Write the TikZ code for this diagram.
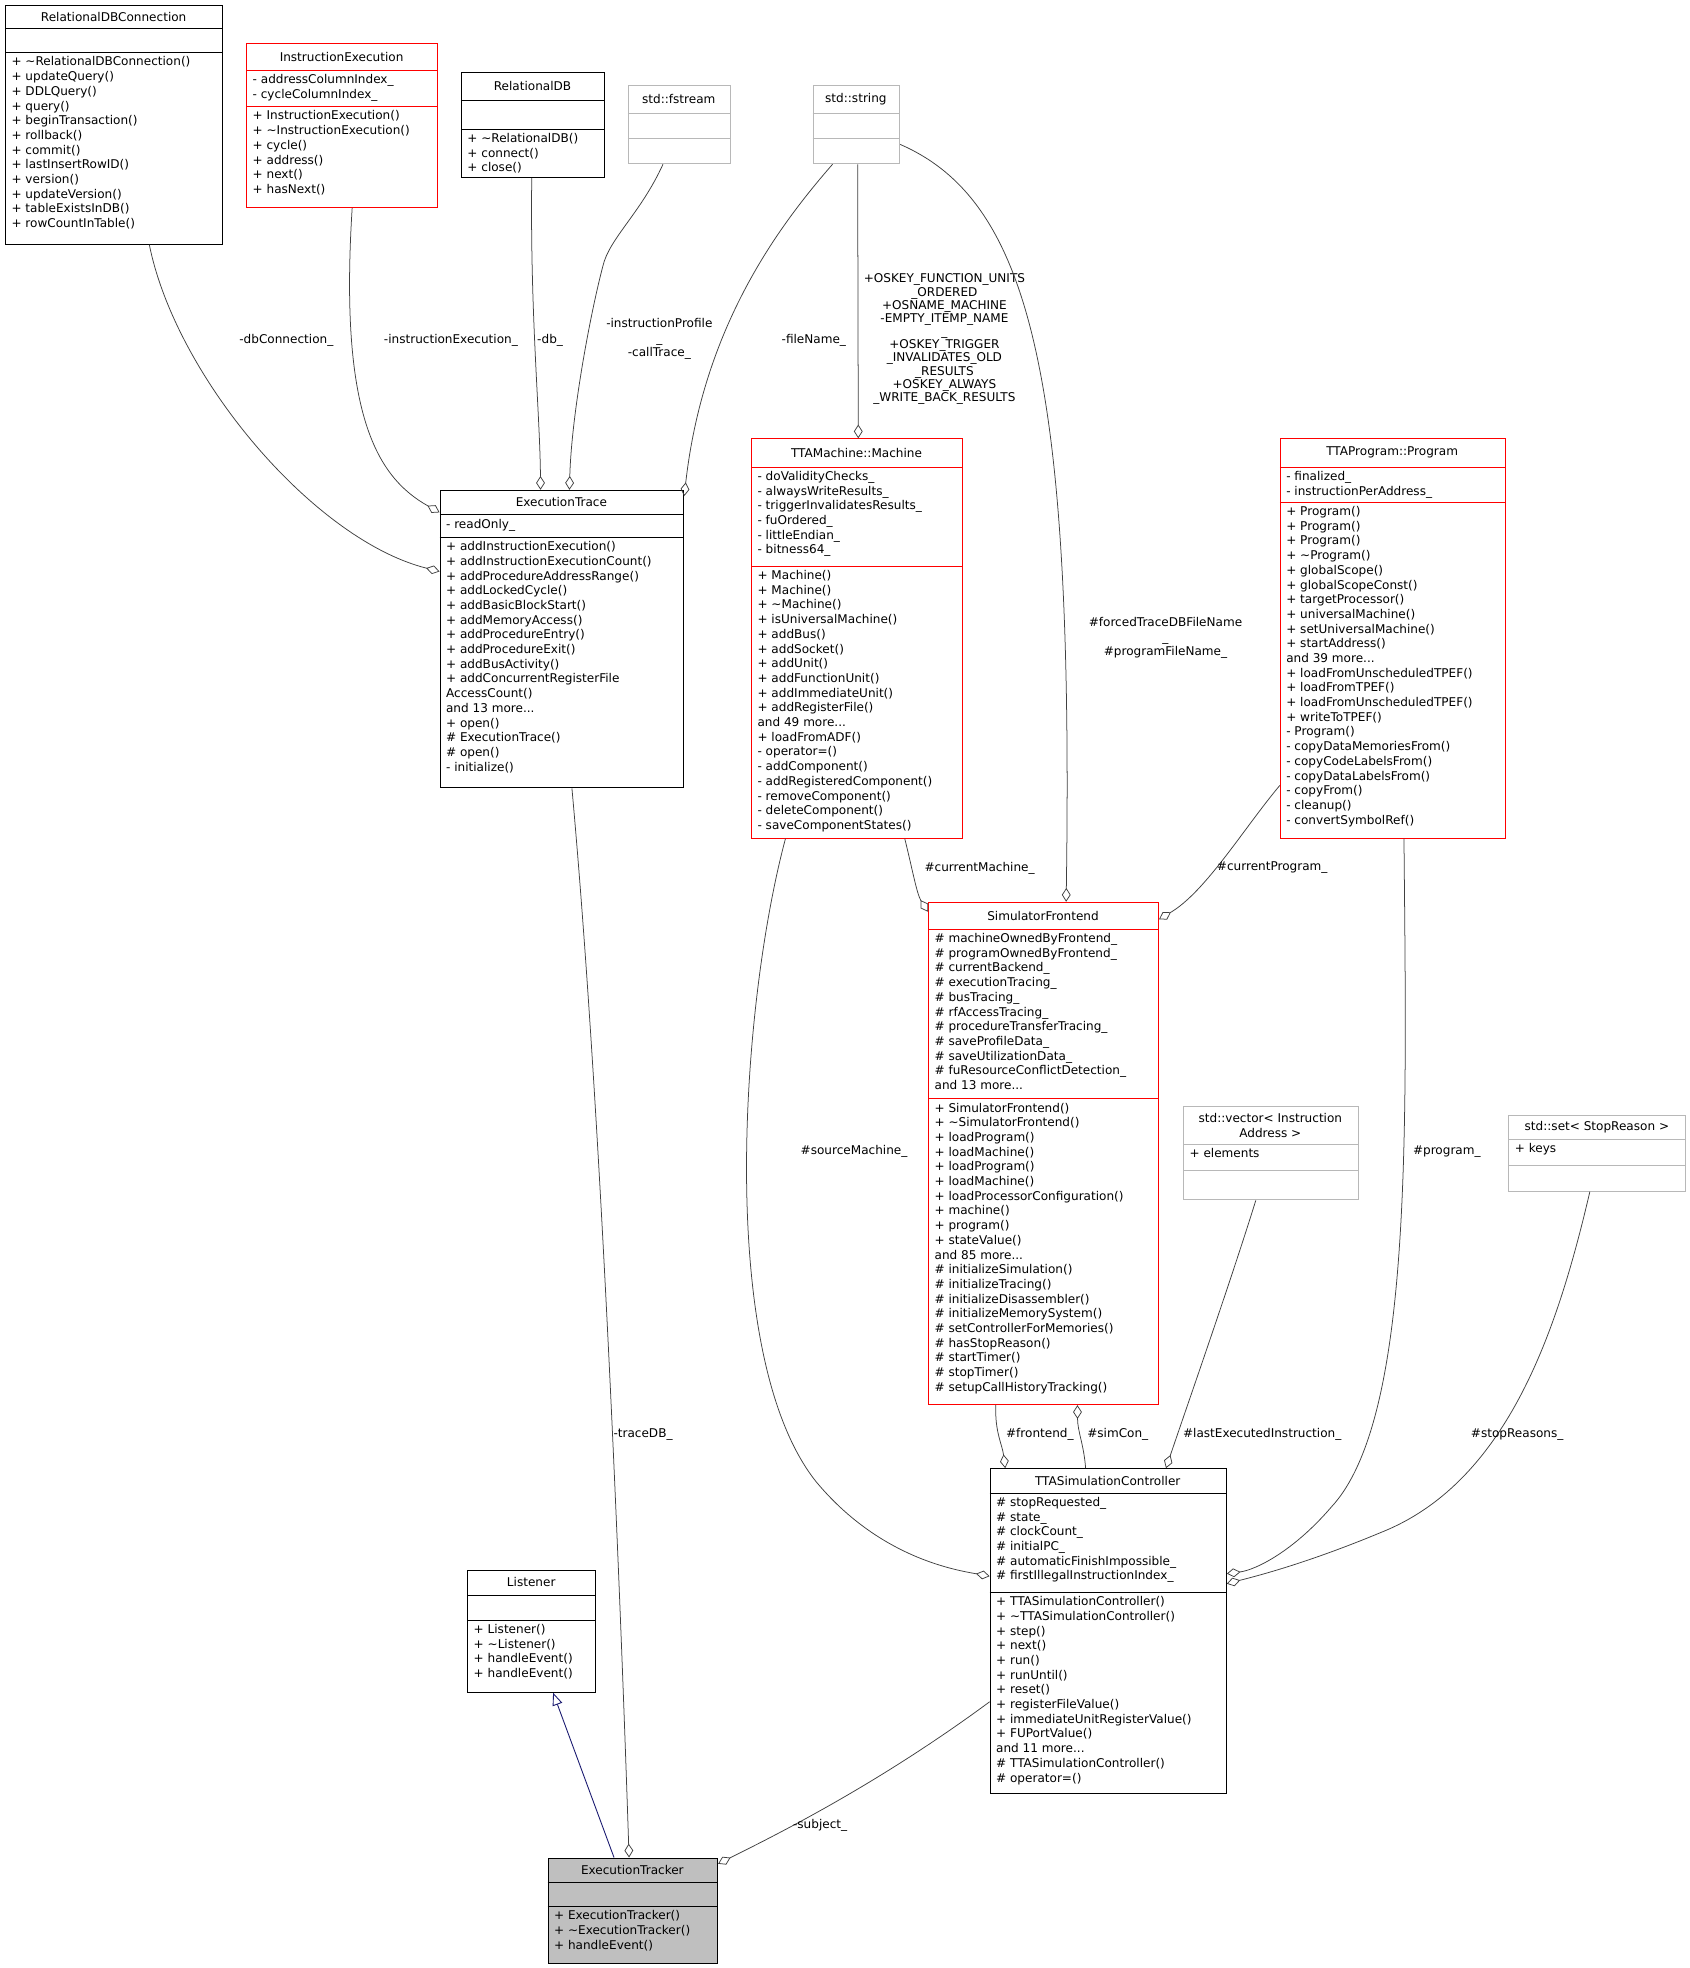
\documentclass[tikz,border=0pt]{standalone}
\usepackage{fontspec}
\setmainfont{DejaVu Sans}
\usetikzlibrary{arrows.meta}
\newcommand\tld{\textasciitilde}
\newcommand\umlfont{\fontsize{9.6}{11.7}\selectfont}
% class box: name, x, y, width, title h, attr h, method h, colour, title
\newcommand\classbox[9]{%
  \node[classframe, draw=#8, minimum width=#4pt, minimum height=#5pt+#6pt+#7pt, anchor=north west] (#1) at (#2,#3) {};
  \draw[draw=#8, line width=0.8pt] (#2,#3+#5) -- ++(#4,0);
  \draw[draw=#8, line width=0.8pt] (#2,#3+#5+#6) -- ++(#4,0);
  \node[font=\umlfont, align=center, inner sep=0] at (#2+#4/2,#3+#5/2) {#9};
  \coordinate (#1-a) at (#2+5,#3+#5+3);
  \coordinate (#1-m) at (#2+5,#3+#5+#6+3);
}
\tikzset{
  classframe/.style={rectangle, line width=0.8pt, inner sep=0},
  members/.style={anchor=north west, align=left, inner sep=0, font=\umlfont},
  lbl/.style={font=\umlfont, align=center, inner sep=1pt},
  usage/.style={draw={rgb,255:red,64;green,64;blue,64}, line width=0.6pt, -{Diamond[open,length=11pt,width=7pt]}},
  inherit/.style={draw={rgb,255:red,25;green,25;blue,112}, line width=0.7pt, -{Triangle[open,length=10pt,width=8pt]}}
}
\colorlet{grayedge}{black!28}
\colorlet{rededge}{red}
\begin{document}
\begin{tikzpicture}[x=1pt,y=1pt,yscale=-1]
\useasboundingbox[fill=white] (0,0) rectangle (1345,1567);

% classes
\classbox{rdbc}{4}{4}{173}{19}{19}{152}{black}{RelationalDBConnection}
\node[members] at (rdbc-m) {+ \tld RelationalDBConnection()\\+ updateQuery()\\+ DDLQuery()\\+ query()\\+ beginTransaction()\\+ rollback()\\+ commit()\\+ lastInsertRowID()\\+ version()\\+ updateVersion()\\+ tableExistsInDB()\\+ rowCountInTable()};

\classbox{ie}{196}{34}{152}{22}{29}{80}{rededge}{InstructionExecution}
\node[members] at (ie-a) {- addressColumnIndex\_\\- cycleColumnIndex\_};
\node[members] at (ie-m) {+ InstructionExecution()\\+ \tld InstructionExecution()\\+ cycle()\\+ address()\\+ next()\\+ hasNext()};

\classbox{rdb}{367}{57}{114}{23}{23}{38}{black}{RelationalDB}
\node[members] at (rdb-m) {+ \tld RelationalDB()\\+ connect()\\+ close()};

\classbox{fstr}{500}{68}{81}{22}{20}{20}{grayedge}{std::fstream}
\classbox{str}{647}{68}{69}{22}{20}{20}{grayedge}{std::string}

\classbox{et}{350}{390}{194}{20}{18}{199}{black}{ExecutionTrace}
\node[members] at (et-a) {- readOnly\_};
\node[members] at (et-m) {+ addInstructionExecution()\\+ addInstructionExecutionCount()\\+ addProcedureAddressRange()\\+ addLockedCycle()\\+ addBasicBlockStart()\\+ addMemoryAccess()\\+ addProcedureEntry()\\+ addProcedureExit()\\+ addBusActivity()\\+ addConcurrentRegisterFile\\AccessCount()\\and 13 more...\\+ open()\\\# ExecutionTrace()\\\# open()\\- initialize()};

\classbox{mach}{598}{349}{168}{23}{79}{216}{rededge}{TTAMachine::Machine}
\node[members] at (mach-a) {- doValidityChecks\_\\- alwaysWriteResults\_\\- triggerInvalidatesResults\_\\- fuOrdered\_\\- littleEndian\_\\- bitness64\_};
\node[members] at (mach-m) {+ Machine()\\+ Machine()\\+ \tld Machine()\\+ isUniversalMachine()\\+ addBus()\\+ addSocket()\\+ addUnit()\\+ addFunctionUnit()\\+ addImmediateUnit()\\+ addRegisterFile()\\and 49 more...\\+ loadFromADF()\\- operator=()\\- addComponent()\\- addRegisteredComponent()\\- removeComponent()\\- deleteComponent()\\- saveComponentStates()};

\classbox{prog}{1019}{349}{179}{23}{28}{267}{rededge}{TTAProgram::Program}
\node[members] at (prog-a) {- finalized\_\\- instructionPerAddress\_};
\node[members] at (prog-m) {+ Program()\\+ Program()\\+ Program()\\+ \tld Program()\\+ globalScope()\\+ globalScopeConst()\\+ targetProcessor()\\+ universalMachine()\\+ setUniversalMachine()\\+ startAddress()\\and 39 more...\\+ loadFromUnscheduledTPEF()\\+ loadFromTPEF()\\+ loadFromUnscheduledTPEF()\\+ writeToTPEF()\\- Program()\\- copyDataMemoriesFrom()\\- copyCodeLabelsFrom()\\- copyDataLabelsFrom()\\- copyFrom()\\- cleanup()\\- convertSymbolRef()};

\classbox{sf}{739}{718}{183}{22}{135}{243}{rededge}{SimulatorFrontend}
\node[members] at (sf-a) {\# machineOwnedByFrontend\_\\\# programOwnedByFrontend\_\\\# currentBackend\_\\\# executionTracing\_\\\# busTracing\_\\\# rfAccessTracing\_\\\# procedureTransferTracing\_\\\# saveProfileData\_\\\# saveUtilizationData\_\\\# fuResourceConflictDetection\_\\and 13 more...};
\node[members] at (sf-m) {+ SimulatorFrontend()\\+ \tld SimulatorFrontend()\\+ loadProgram()\\+ loadMachine()\\+ loadProgram()\\+ loadMachine()\\+ loadProcessorConfiguration()\\+ machine()\\+ program()\\+ stateValue()\\and 85 more...\\\# initializeSimulation()\\\# initializeTracing()\\\# initializeDisassembler()\\\# initializeMemorySystem()\\\# setControllerForMemories()\\\# hasStopReason()\\\# startTimer()\\\# stopTimer()\\\# setupCallHistoryTracking()};

\classbox{vec}{942}{881}{139}{30}{21}{23}{grayedge}{std::vector< Instruction\\Address >}
\node[members] at (vec-a) {+ elements};
\classbox{set}{1201}{888}{141}{19}{21}{20}{grayedge}{std::set< StopReason >}
\node[members] at (set-a) {+ keys};

\classbox{tsc}{788}{1169}{188}{20}{79}{160}{black}{TTASimulationController}
\node[members] at (tsc-a) {\# stopRequested\_\\\# state\_\\\# clockCount\_\\\# initialPC\_\\\# automaticFinishImpossible\_\\\# firstIllegalInstructionIndex\_};
\node[members] at (tsc-m) {+ TTASimulationController()\\+ \tld TTASimulationController()\\+ step()\\+ next()\\+ run()\\+ runUntil()\\+ reset()\\+ registerFileValue()\\+ immediateUnitRegisterValue()\\+ FUPortValue()\\and 11 more...\\\# TTASimulationController()\\\# operator=()};

\classbox{lis}{372}{1250}{102}{20}{20}{57}{black}{Listener}
\node[members] at (lis-m) {+ Listener()\\+ \tld Listener()\\+ handleEvent()\\+ handleEvent()};

\fill[black!25] (436,1479) rectangle (571,1563);
\classbox{etr}{436}{1479}{135}{20}{19}{45}{black}{ExecutionTracker}
\node[members] at (etr-m) {+ ExecutionTracker()\\+ \tld ExecutionTracker()\\+ handleEvent()};

% connectors
\draw[usage] ([xshift=28pt]rdbc.south) .. controls (140,300) and (250,430) .. ([yshift=65pt]et.north west);
\node[lbl] at (228,271) {-dbConnection\_};
\draw[usage] ([xshift=8pt]ie.south) .. controls (270,330) and (300,380) .. ([yshift=18pt]et.north west);
\node[lbl] at (359,271) {-instructionExecution\_};
\draw[usage] ([xshift=-1pt]rdb.south) .. controls (422,250) and (430,330) .. ([xshift=-17pt]et.north);
\node[lbl] at (438,271) {-db\_};
\draw[usage] ([xshift=-13pt]fstr.south) .. controls (510,170) and (485,190) .. (480,212) .. controls (470,250) and (455,330) .. ([xshift=6pt]et.north);
\node[lbl] at (525,270) {-instructionProfile\\\_\\-callTrace\_};
\draw[usage] ([xshift=-19pt]str.south) .. controls (620,180) and (560,260) .. ([yshift=5pt]et.north east);
\node[lbl] at (648,271) {-fileName\_};
\draw[usage] ([xshift=1pt]str.south) -- ([xshift=1pt]mach.north);
\node[lbl, font=\fontsize{9.6}{10.5}\selectfont] at (752,270) {+OSKEY\_FUNCTION\_UNITS\\\_ORDERED\\+OSNAME\_MACHINE\\-EMPTY\_ITEMP\_NAME\\\_\\+OSKEY\_TRIGGER\\\_INVALIDATES\_OLD\\\_RESULTS\\+OSKEY\_ALWAYS\\\_WRITE\_BACK\_RESULTS};
\draw[usage] ([yshift=47pt]str.north east) .. controls (820,160) and (855,300) .. ([xshift=18pt]sf.north);
\node[lbl] at (928,508) {\#forcedTraceDBFileName\\\_\\\#programFileName\_};
\draw[usage] ([xshift=38pt]mach.south) .. controls (726,690) and (730,712) .. ([yshift=8pt]sf.north west);
\node[lbl] at (780,691) {\#currentMachine\_};
\draw[usage] ([yshift=117pt]prog.west) .. controls (990,660) and (960,710) .. ([yshift=14pt]sf.north east);
\node[lbl] at (1013,691) {\#currentProgram\_};
\draw[usage] ([xshift=-57pt]mach.south) .. controls (590,800) and (570,1080) .. (650,1180) .. controls (700,1240) and (760,1250) .. ([yshift=86pt]tsc.north west);
\node[lbl] at (680,917) {\#sourceMachine\_};
\draw[usage] ([xshift=9pt]prog.south) .. controls (1120,900) and (1125,1130) .. (1060,1200) .. controls (1030,1235) and (1000,1250) .. ([yshift=84pt]tsc.north east);
\node[lbl] at (1152,917) {\#program\_};
\draw[usage] ([xshift=-38pt]sf.south) .. controls (792,1140) and (798,1150) .. ([xshift=-82pt]tsc.north);
\node[lbl] at (828,1142) {\#frontend\_};
\draw[usage] ([xshift=-18pt]tsc.north) .. controls (863,1150) and (858,1140) .. ([xshift=27pt]sf.south);
\node[lbl] at (890,1142) {\#simCon\_};
\draw[usage] ([xshift=-12pt]vec.south) .. controls (980,1020) and (945,1120) .. ([xshift=46pt]tsc.north);
\node[lbl] at (1005,1142) {\#lastExecutedInstruction\_};
\draw[usage] ([xshift=-6pt]set.south) .. controls (1240,1060) and (1200,1180) .. (1100,1220) .. controls (1040,1245) and (1000,1255) .. ([yshift=92pt]tsc.north east);
\node[lbl] at (1208,1142) {\#stopReasons\_};
\draw[usage] ([xshift=8pt]et.south) .. controls (480,900) and (495,1300) .. ([xshift=-3pt]etr.north);
\node[lbl] at (512,1142) {-traceDB\_};
\draw[usage] ([yshift=186pt]tsc.north west) .. controls (700,1420) and (620,1460) .. ([yshift=5pt]etr.north east);
\node[lbl] at (653,1453) {-subject\_};
\draw[inherit] ([xshift=-15pt]etr.north) -- ([xshift=17pt]lis.south);
\end{tikzpicture}
\end{document}
